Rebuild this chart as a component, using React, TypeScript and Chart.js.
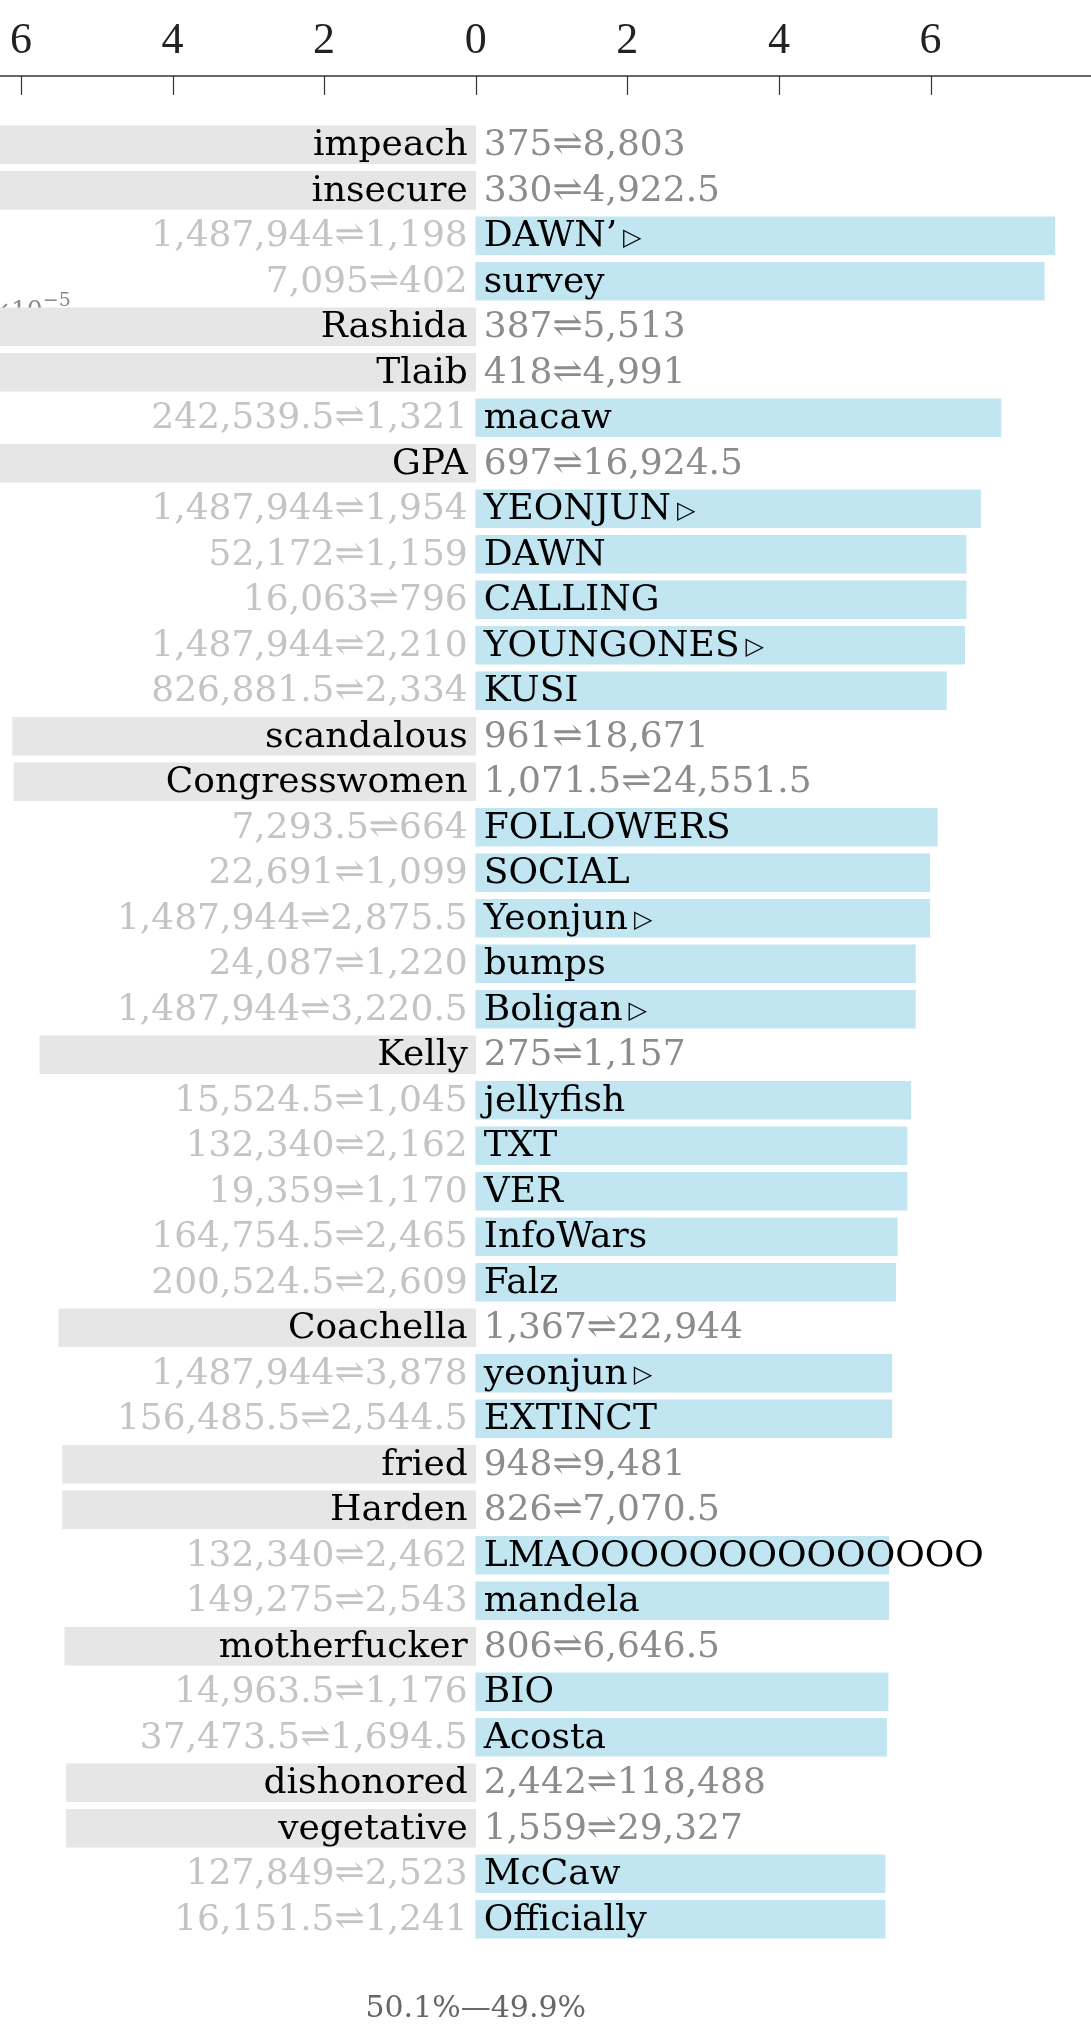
import React, { useEffect, useRef } from "react";
import { Chart, registerables } from "chart.js";

Chart.register(...registerables);

// Words (rows, top to bottom)
const words = [
  "impeach", "insecure", "DAWN’", "survey", "Rashida", "Tlaib", "macaw", "GPA",
  "YEONJUN", "DAWN", "CALLING", "YOUNGONES", "KUSI", "scandalous", "Congresswomen",
  "FOLLOWERS", "SOCIAL", "Yeonjun", "bumps", "Boligan", "Kelly", "jellyfish", "TXT",
  "VER", "InfoWars", "Falz", "Coachella", "yeonjun", "EXTINCT", "fried", "Harden",
  "LMAOOOOOOOOOOOOOO", "mandela", "motherfucker", "BIO", "Acosta", "dishonored",
  "vegetative", "McCaw", "Officially",
];

// Signed scores (×10^-5): negative = left (gray), positive = right (blue)
const values = [
  -8.0, -7.8, 7.64, 7.5, -7.3, -7.1, 6.93, -6.8,
  6.66, 6.47, 6.47, 6.45, 6.21, -6.11, -6.09,
  6.09, 5.99, 5.99, 5.8, 5.8, -5.75, 5.74, 5.69,
  5.69, 5.56, 5.54, -5.5, 5.49, 5.49, -5.45, -5.45,
  5.45, 5.45, -5.42, 5.44, 5.42, -5.4,
  -5.4, 5.4, 5.4,
];

// Count pairs shown as "a⇌b"
const countsA = [
  375, 330, 1487944, 7095, 387, 418, 242539.5, 697,
  1487944, 52172, 16063, 1487944, 826881.5, 961, 1071.5,
  7293.5, 22691, 1487944, 24087, 1487944, 275, 15524.5, 132340,
  19359, 164754.5, 200524.5, 1367, 1487944, 156485.5, 948, 826,
  132340, 149275, 806, 14963.5, 37473.5, 2442,
  1559, 127849, 16151.5,
];
const countsB = [
  8803, 4922.5, 1198, 402, 5513, 4991, 1321, 16924.5,
  1954, 1159, 796, 2210, 2334, 18671, 24551.5,
  664, 1099, 2875.5, 1220, 3220.5, 1157, 1045, 2162,
  1170, 2465, 2609, 22944, 3878, 2544.5, 9481, 7070.5,
  2462, 2543, 6646.5, 1176, 1694.5, 118488,
  29327, 2523, 1241,
];

// Rows whose word carries a ▷ marker
const marked = [
  false, false, true, false, false, false, false, false,
  true, false, false, true, false, false, false,
  false, false, true, false, true, false, false, false,
  false, false, false, false, true, false, false, false,
  false, false, false, false, false, false,
  false, false, false,
];

const xTicks = [-6, -4, -2, 0, 2, 4, 6];
const offsetMain = "×10";
const offsetExp = "−5";
const footerText = "50.1%—49.9%";

const X_MIN = -6.276;
const X_MAX = 8.117;

const GRAY = "#e6e6e6";
const BLUE = "#c1e5f1";
const WORD_FONT = "36px 'DejaVu Serif'";
const AXIS_GAP = 46; // distance between axis line and top of first band

const fmt = (n: number) =>
  n.toLocaleString("en-US", { maximumFractionDigits: 1 });

const labelPlugin = {
  id: "rowLabels",
  beforeDatasetsDraw(chart: any) {
    const ctx = chart.ctx;
    ctx.save();
    ctx.fillStyle = "#888888";
    ctx.textAlign = "left";
    ctx.textBaseline = "alphabetic";
    ctx.font = "25px 'DejaVu Serif'";
    ctx.fillText(offsetMain, -10, 318);
    const w = ctx.measureText(offsetMain).width;
    ctx.font = "19px 'DejaVu Serif'";
    ctx.fillText(offsetExp, -10 + w, 306);
    ctx.restore();
  },
  afterDatasetsDraw(chart: any) {
    const ctx = chart.ctx;
    const xs = chart.scales.x;
    const ys = chart.scales.y;
    const x0 = xs.getPixelForValue(0);
    ctx.save();
    ctx.textBaseline = "middle";
    for (let i = 0; i < words.length; i++) {
      const y = ys.getPixelForValue(i) + 1;
      const count = `${fmt(countsA[i])}⇌${fmt(countsB[i])}`;
      const neg = values[i] < 0;
      ctx.font = WORD_FONT;
      if (neg) {
        ctx.fillStyle = "#000000";
        ctx.textAlign = "right";
        ctx.fillText(words[i], x0 - 8, y);
        ctx.fillStyle = "#8c8c8c";
        ctx.textAlign = "left";
        ctx.fillText(count, x0 + 8, y);
      } else {
        ctx.fillStyle = "#000000";
        ctx.textAlign = "left";
        ctx.fillText(words[i], x0 + 8, y);
        const ww = ctx.measureText(words[i]).width;
        if (marked[i]) {
          ctx.font = "24px 'DejaVu Sans'";
          ctx.fillText("▷", x0 + 8 + ww + 6, y + 2);
          ctx.font = WORD_FONT;
        }
        ctx.fillStyle = "#c4c4c4";
        ctx.textAlign = "right";
        ctx.fillText(count, x0 - 8, y);
      }
    }
    ctx.restore();
  },
  afterDraw(chart: any) {
    const ctx = chart.ctx;
    const xs = chart.scales.x;
    const axisY = chart.chartArea.top - AXIS_GAP;
    ctx.save();
    ctx.strokeStyle = "#333333";
    ctx.lineWidth = 1.5;
    ctx.beginPath();
    ctx.moveTo(0, axisY);
    ctx.lineTo(chart.width, axisY);
    ctx.stroke();
    ctx.lineWidth = 1.2;
    for (const t of xTicks) {
      const px = Math.round(xs.getPixelForValue(t)) + 0.5;
      ctx.beginPath();
      ctx.moveTo(px, axisY);
      ctx.lineTo(px, axisY + 19);
      ctx.stroke();
    }
    ctx.fillStyle = "#666666";
    ctx.font = "30px 'DejaVu Serif'";
    ctx.textAlign = "center";
    ctx.textBaseline = "middle";
    ctx.fillText(footerText, xs.getPixelForValue(0), 2009);
    ctx.restore();
  },
};

export default function App() {
  const ref = useRef<HTMLCanvasElement | null>(null);

  useEffect(() => {
    if (!ref.current) return;
    const chart = new Chart(ref.current, {
      type: "bar",
      data: {
        labels: words,
        datasets: [
          {
            data: values,
            backgroundColor: values.map((v) => (v < 0 ? GRAY : BLUE)),
            borderWidth: 0,
            barThickness: 38,
          },
        ],
      },
      options: {
        indexAxis: "y",
        animation: false,
        responsive: false,
        devicePixelRatio: 1,
        layout: { padding: { top: 0, bottom: 95, left: 0, right: 0 } },
        plugins: {
          legend: { display: false },
          tooltip: { enabled: false },
          title: { display: false },
        },
        scales: {
          x: {
            type: "linear",
            position: "top",
            min: X_MIN,
            max: X_MAX,
            afterBuildTicks: (scale: any) => {
              scale.ticks = xTicks.map((v) => ({ value: v }));
            },
            afterFit: (scale: any) => {
              scale.height = 122;
              scale.paddingLeft = 0;
              scale.paddingRight = 0;
            },
            grid: { display: false, drawTicks: false },
            border: { display: false },
            ticks: {
              padding: 54,
              color: "#222222",
              font: { family: "'Liberation Serif'", size: 44 },
              callback: (v: any) => String(Math.abs(Number(v))),
              maxRotation: 0,
              autoSkip: false,
            },
          },
          y: {
            type: "category",
            display: false,
          },
        },
      },
      plugins: [labelPlugin],
    });
    return () => chart.destroy();
  }, []);

  return (
    <div style={{ position: "absolute", left: 0, top: 0, width: 1091, height: 2037, background: "#fff" }}>
      <canvas ref={ref} width={1091} height={2037} style={{ display: "block" }} />
    </div>
  );
}
